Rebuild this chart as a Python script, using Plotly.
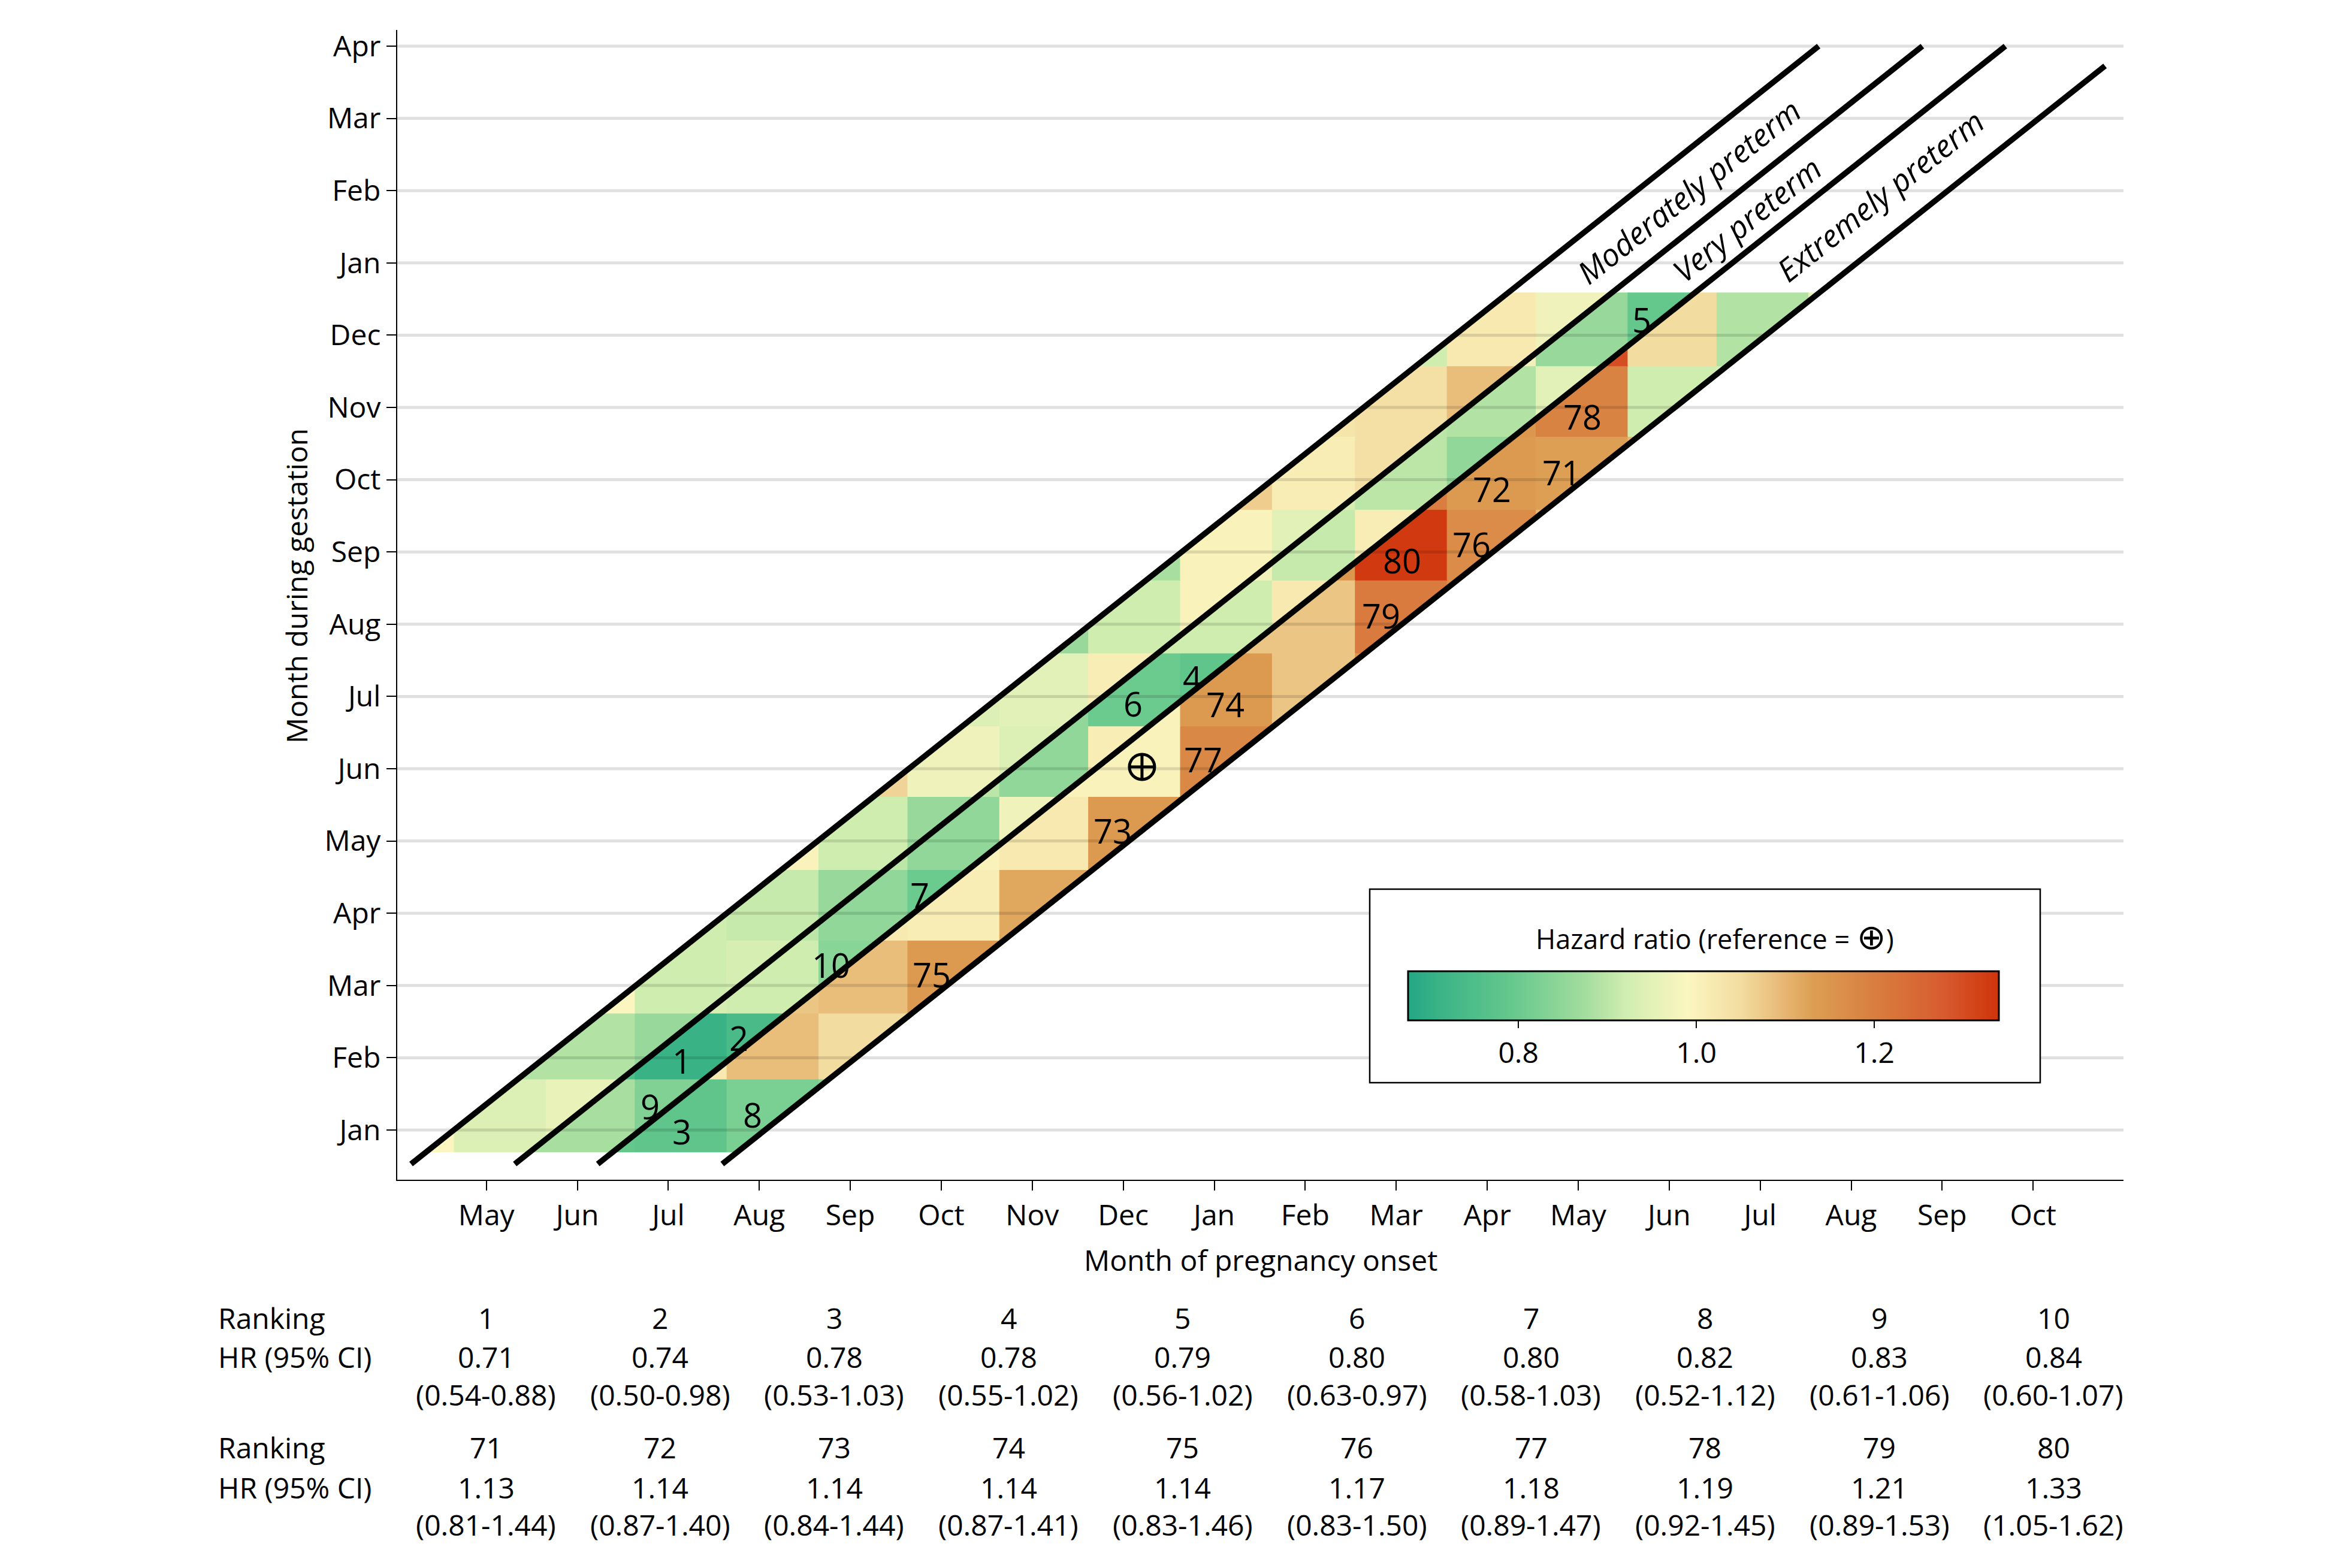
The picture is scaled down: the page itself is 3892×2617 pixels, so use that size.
import plotly.graph_objects as go
from plotly.colors import sample_colorscale

# ---------------------------------------------------------------- data
X_TICK_LABELS = ["May", "Jun", "Jul", "Aug", "Sep", "Oct", "Nov", "Dec", "Jan",
                 "Feb", "Mar", "Apr", "May", "Jun", "Jul", "Aug", "Sep", "Oct"]
Y_TICK_LABELS = ["Jan", "Feb", "Mar", "Apr", "May", "Jun", "Jul", "Aug", "Sep",
                 "Oct", "Nov", "Dec", "Jan", "Feb", "Mar", "Apr"]

# onset months, column -1 (Apr) .. 17 (Oct of next year)
ONSET_MONTH_DAYS = [30, 31, 30, 31, 31, 30, 31, 30, 31, 31, 28, 31, 30, 31, 30, 31, 31, 30, 31]
# gestation months (rows) Jan .. Dec
GEST_MONTH_DAYS = [31, 28, 31, 30, 31, 30, 31, 31, 30, 31, 30, 31]

GA_WEEKS = [37, 32, 28, 22]                       # band boundaries
BAND_LABELS = ["Moderately preterm", "Very preterm", "Extremely preterm"]
BAND_FIRST_COL = [-1, 0, 1]                       # first onset column relative to row

# hazard ratios per gestation row (Jan..Dec), consecutive onset columns
HR_MODERATE = [
    [0.99, 0.94, 0.96],
    [0.89, 0.89, 0.86],
    [0.99, 0.92, 0.93],
    [0.92, 0.91, 0.86],
    [1.00, 0.92, 0.86],
    [1.06, 0.97, 0.94],
    [0.94, 0.95, 1.01],
    [0.86, 0.92, 1.00],
    [0.88, 1.00, 0.95],
    [1.07, 1.01, 1.04],
    [1.03, 1.04, 1.09],
    [0.92, 1.02, 0.97],
]
HR_VERY = [
    [0.88, 0.88, 0.83],
    [0.75, 0.71, 0.74],
    [0.93, 0.92, 0.84],
    [0.90, 0.85, 0.80],
    [0.90, 0.85, 0.97],
    [0.90, 0.85, 1.01],
    [0.85, 0.80, 0.78],
    [0.92, 0.92, 1.02],
    [0.97, 0.91, 1.01],
    [0.93, 0.90, 0.85],
    [0.90, 0.89, 0.95],
    [0.97, 0.86, 0.79],
]
HR_EXTREME = [
    [0.79, 0.78, 0.82, 0.84],
    [1.02, 1.09, 1.05, 1.06],
    [1.08, 1.09, 1.14, 1.10],
    [1.02, 1.01, 1.12, 1.10],
    [1.00, 1.02, 1.14, 1.28],
    [1.00, 1.00, 1.18, 1.10],
    [1.00, 1.14, 1.08, 1.15],
    [1.08, 1.08, 1.21, 1.17],
    [1.15, 1.33, 1.17, 1.10],
    [1.20, 1.14, 1.13, 1.10],
    [1.15, 1.19, 0.92, 0.93],
    [1.30, 1.05, 0.89, 0.96],
]

# ranked cells: band (0 mod, 1 very, 2 extreme), gestation row, onset column, rank
RANK_NUM = [1, 2, 3, 4, 5, 6, 7, 8, 9, 10, 71, 72, 73, 74, 75, 76, 77, 78, 79, 80]
RANK_BAND = [1, 1, 2, 1, 1, 1, 1, 2, 1, 1, 2, 2, 2, 2, 2, 2, 2, 2, 2, 2]
RANK_ROW = [1, 1, 0, 6, 11, 6, 3, 0, 0, 2, 9, 9, 4, 6, 2, 8, 5, 10, 7, 8]
RANK_COL = [2, 3, 2, 8, 13, 7, 5, 3, 2, 4, 12, 11, 7, 8, 5, 11, 8, 12, 10, 10]
REF_CELL = (2, 5, 7)   # reference cell (band, row, col)

TOP_RANKS = ["1", "2", "3", "4", "5", "6", "7", "8", "9", "10"]
TOP_HR = ["0.71", "0.74", "0.78", "0.78", "0.79", "0.80", "0.80", "0.82", "0.83", "0.84"]
TOP_CI = ["(0.54-0.88)", "(0.50-0.98)", "(0.53-1.03)", "(0.55-1.02)", "(0.56-1.02)",
          "(0.63-0.97)", "(0.58-1.03)", "(0.52-1.12)", "(0.61-1.06)", "(0.60-1.07)"]
BOTTOM_RANKS = ["71", "72", "73", "74", "75", "76", "77", "78", "79", "80"]
BOTTOM_HR = ["1.13", "1.14", "1.14", "1.14", "1.14", "1.17", "1.18", "1.19", "1.21", "1.33"]
BOTTOM_CI = ["(0.81-1.44)", "(0.87-1.40)", "(0.84-1.44)", "(0.87-1.41)", "(0.83-1.46)",
             "(0.83-1.50)", "(0.89-1.47)", "(0.92-1.45)", "(0.89-1.53)", "(1.05-1.62)"]

# colour scale (hazard ratio stops)
ZMIN, ZMAX = 0.676, 1.34
CS_HR = [0.676, 0.72, 0.79, 0.875, 0.92, 0.99, 1.05, 1.10, 1.13, 1.19, 1.28, 1.34]
CS_COL = ["#23a784", "#3fb687", "#64c78c", "#a3dd9e", "#d0edb0", "#fbf6c0",
          "#f3dca0", "#e6b672", "#dd9f54", "#d98342", "#d75a2e", "#d0330a"]
CB_TICKS = [0.8, 1.0, 1.2]

# ---------------------------------------------------------------- layout constants
FIG_W, FIG_H = 3892, 2617
PLOT_L, PLOT_R, PLOT_T, PLOT_B = 663, 3544, 50, 1969
X_RANGE = [-0.979, 17.993]
Y_RANGE = [-0.688, 15.224]
DAYS_PER_UNIT = 30.7
X_ORIGIN_MAY = -0.352      # position of the first day of onset month "May"
Y_ORIGIN_JAN = -0.304      # position of the first day of gestation month "Jan"
GA_SHIFT_DAYS = -4.5
LINE_Y = [-0.47, 15.0]
LINE_X_MAX = 17.79
LABEL_SHIFT = (-0.09, -0.12)   # cell label offset from polygon centroid (axis units)
FONT = "Open Sans, DejaVu Sans, sans-serif"
FS = 48
FS_CELL = 56


def px_x(px):
    return (px - PLOT_L) / (PLOT_R - PLOT_L)


def px_y(py):
    return (PLOT_B - py) / (PLOT_B - PLOT_T)


# cell edges
cum = [0]
for d in ONSET_MONTH_DAYS:
    cum.append(cum[-1] + d)
x_edges = [X_ORIGIN_MAY + (c - ONSET_MONTH_DAYS[0]) / DAYS_PER_UNIT for c in cum]
cumg = [0]
for d in GEST_MONTH_DAYS:
    cumg.append(cumg[-1] + d)
y_edges = [Y_ORIGIN_JAN + c / DAYS_PER_UNIT for c in cumg]
days_may_to_jan = sum(ONSET_MONTH_DAYS[1:9])
K = [(Y_ORIGIN_JAN - X_ORIGIN_MAY) + (7 * g + GA_SHIFT_DAYS - days_may_to_jan) / DAYS_PER_UNIT
     for g in GA_WEEKS]

colorscale = [[(h - ZMIN) / (ZMAX - ZMIN), c] for h, c in zip(CS_HR, CS_COL)]


def clip(poly, a, b, c):
    out = []
    n = len(poly)
    for i in range(n):
        p, q = poly[i], poly[(i + 1) % n]
        fp = a * p[0] + b * p[1] + c
        fq = a * q[0] + b * q[1] + c
        if fp >= 0:
            out.append(p)
        if (fp >= 0) != (fq >= 0):
            t = fp / (fp - fq)
            out.append((p[0] + t * (q[0] - p[0]), p[1] + t * (q[1] - p[1])))
    return out


def centroid(poly):
    a = cx = cy = 0.0
    n = len(poly)
    for i in range(n):
        x0, y0 = poly[i]
        x1, y1 = poly[(i + 1) % n]
        cr = x0 * y1 - x1 * y0
        a += cr
        cx += (x0 + x1) * cr
        cy += (y0 + y1) * cr
    a *= 0.5
    return cx / (6 * a), cy / (6 * a)


fig = go.Figure()
polys = {}
for b, (rows, first) in enumerate(zip([HR_MODERATE, HR_VERY, HR_EXTREME], BAND_FIRST_COL)):
    k_hi, k_lo = K[b], K[b + 1]
    for r, vals in enumerate(rows):
        for j, v in enumerate(vals):
            c = r + first + j
            x0, x1 = x_edges[c + 1], x_edges[c + 2]
            y0, y1 = y_edges[r], y_edges[r + 1]
            poly = [(x0, y0), (x1, y0), (x1, y1), (x0, y1)]
            poly = clip(poly, -1, 1, -k_lo)
            poly = clip(poly, 1, -1, k_hi)
            if len(poly) < 3:
                continue
            polys[(b, r, c)] = poly
            col = sample_colorscale(colorscale, [(v - ZMIN) / (ZMAX - ZMIN)])[0]
            fig.add_trace(go.Scatter(
                x=[p[0] for p in poly] + [poly[0][0]],
                y=[p[1] for p in poly] + [poly[0][1]],
                mode="lines", fill="toself", fillcolor=col,
                line=dict(color=col, width=1.2), hoverinfo="skip", showlegend=False))

# boundary lines
for k in K:
    xa, ya = LINE_Y[0] - k, LINE_Y[0]
    xb, yb = LINE_Y[1] - k, LINE_Y[1]
    if xb > LINE_X_MAX:
        xb, yb = LINE_X_MAX, LINE_X_MAX + k
    fig.add_trace(go.Scatter(x=[xa, xb], y=[ya, yb], mode="lines",
                             line=dict(color="black", width=9.5),
                             hoverinfo="skip", showlegend=False))

# reference marker
rx, ry = centroid(polys[REF_CELL])
fig.add_trace(go.Scatter(x=[rx], y=[ry], mode="markers",
                         marker=dict(symbol="circle-cross-open", size=42,
                                     color="black", line=dict(width=5, color="black")),
                         hoverinfo="skip", showlegend=False))

# colour bar holder
fig.add_trace(go.Scatter(
    x=[X_RANGE[0]], y=[Y_RANGE[0]], mode="markers", hoverinfo="skip", showlegend=False,
    marker=dict(color=[ZMIN], cmin=ZMIN, cmax=ZMAX, colorscale=colorscale, opacity=0,
                showscale=True,
                colorbar=dict(orientation="h", thickness=82, len=986, lenmode="pixels",
                              x=px_x(2843), xanchor="center", y=px_y(1621), yanchor="top",
                              xpad=0, ypad=0, outlinewidth=3, outlinecolor="black",
                              ticks="outside", ticklen=12, tickwidth=2, tickcolor="black",
                              tickvals=CB_TICKS, ticktext=[f"{t:.1f}" for t in CB_TICKS],
                              tickfont=dict(family=FONT, size=FS, color="black")))))

annotations = []
for num, b, r, c in zip(RANK_NUM, RANK_BAND, RANK_ROW, RANK_COL):
    cx, cy = centroid(polys[(b, r, c)])
    annotations.append(dict(x=cx + LABEL_SHIFT[0], y=cy + LABEL_SHIFT[1], xref="x", yref="y",
                            text=str(num), showarrow=False, xanchor="center", yanchor="middle",
                            font=dict(family=FONT, size=FS_CELL, color="black")))

# band labels
LABEL_Y = [13.0, 12.61, 12.94]
for b, name in enumerate(BAND_LABELS):
    kc = (K[b] + K[b + 1]) / 2
    annotations.append(dict(x=LABEL_Y[b] - kc, y=LABEL_Y[b], xref="x", yref="y",
                            text=f"<i>{name}</i>", showarrow=False, textangle=-38.46,
                            xanchor="center", yanchor="middle",
                            font=dict(family=FONT, size=52, color="black")))

# axis titles
annotations.append(dict(x=0.5, y=px_y(2102), xref="paper", yref="paper",
                        text="Month of pregnancy onset", showarrow=False,
                        xanchor="center", yanchor="middle",
                        font=dict(family=FONT, size=FS, color="black")))
annotations.append(dict(x=px_x(494), y=px_y(978), xref="paper", yref="paper",
                        text="Month during gestation", showarrow=False, textangle=-90,
                        xanchor="center", yanchor="middle",
                        font=dict(family=FONT, size=FS, color="black")))

# legend title
annotations.append(dict(x=px_x(2862), y=px_y(1561), xref="paper", yref="paper",
                        text="Hazard ratio (reference = <span style='font-size:58px'>\u2295</span>)",
                        showarrow=False, xanchor="center", yanchor="middle",
                        font=dict(family=FONT, size=45, color="black")))

# table
TABLE_X0, TABLE_DX, TABLE_LABEL_X = 811, 290.7, 362
TABLE_ROWS_Y = [[2199, 2264, 2327], [2415, 2482, 2544]]
for (ranks, hrs, cis), ys in zip([(TOP_RANKS, TOP_HR, TOP_CI), (BOTTOM_RANKS, BOTTOM_HR, BOTTOM_CI)],
                                 TABLE_ROWS_Y):
    for lab, yy in zip(["Ranking", "HR (95% CI)"], ys[:2]):
        annotations.append(dict(x=px_x(TABLE_LABEL_X), y=px_y(yy), xref="paper", yref="paper",
                                text=lab, showarrow=False, xanchor="left", yanchor="middle",
                                font=dict(family=FONT, size=FS, color="black")))
    for i, (rk, hr, ci) in enumerate(zip(ranks, hrs, cis)):
        xx = px_x(TABLE_X0 + i * TABLE_DX)
        for t, yy in zip([rk, hr, ci], ys):
            annotations.append(dict(x=xx, y=px_y(yy), xref="paper", yref="paper",
                                    text=t, showarrow=False, xanchor="center", yanchor="middle",
                                    font=dict(family=FONT, size=FS, color="black")))

# shapes: gridlines above cells, legend box
shapes = []
for t in range(len(Y_TICK_LABELS)):
    shapes.append(dict(type="line", xref="paper", yref="y", x0=0, x1=1, y0=t, y1=t,
                       line=dict(color="rgba(0,0,0,0.12)", width=5), layer="above"))
shapes.append(dict(type="rect", xref="paper", yref="paper",
                   x0=px_x(2286), x1=px_x(3405), y0=px_y(1807), y1=px_y(1484),
                   fillcolor="white", line=dict(color="black", width=2.5), layer="above"))

fig.update_layout(
    width=FIG_W, height=FIG_H,
    margin=dict(l=PLOT_L, r=FIG_W - PLOT_R, t=PLOT_T, b=FIG_H - PLOT_B, pad=0),
    paper_bgcolor="white", plot_bgcolor="white",
    font=dict(family=FONT, size=FS, color="black"),
    xaxis=dict(range=X_RANGE, tickmode="array", tickvals=list(range(len(X_TICK_LABELS))),
               ticktext=X_TICK_LABELS, showgrid=False, zeroline=False, showline=True,
               linecolor="black", linewidth=2, ticks="outside", ticklen=16, tickwidth=2,
               tickcolor="black", tickfont=dict(family=FONT, size=FS, color="black")),
    yaxis=dict(range=Y_RANGE, tickmode="array", tickvals=list(range(len(Y_TICK_LABELS))),
               ticktext=Y_TICK_LABELS, showgrid=False, zeroline=False, showline=True,
               linecolor="black", linewidth=2, ticks="outside", ticklen=16, tickwidth=2,
               tickcolor="black", tickfont=dict(family=FONT, size=FS, color="black")),
    annotations=annotations, shapes=shapes, showlegend=False,
)

fig.write_html("out.html", config={"displayModeBar": False},
               post_script="document.body.style.margin='0';")
